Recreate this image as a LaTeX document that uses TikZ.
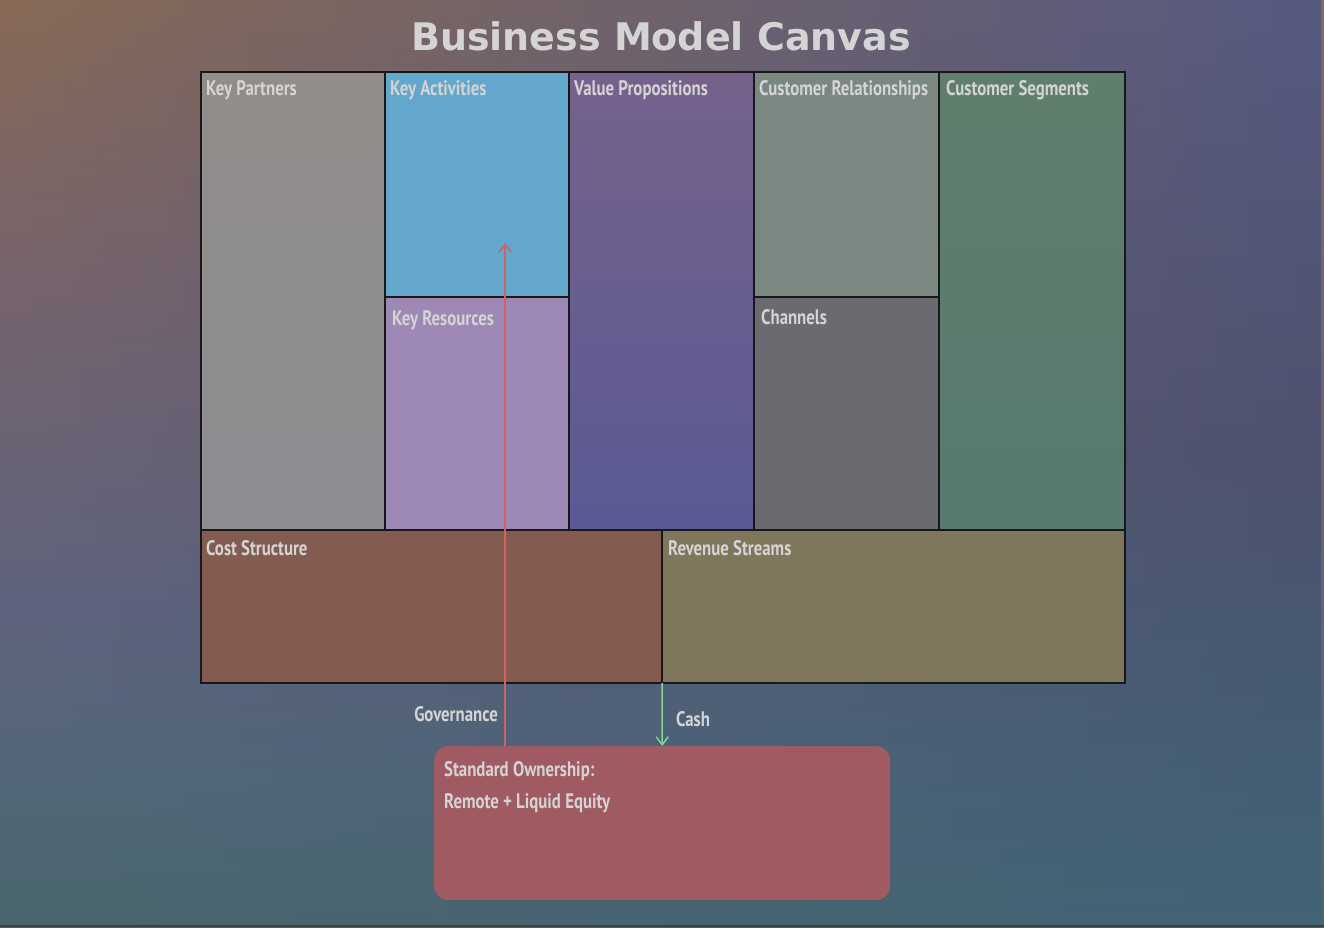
\documentclass[tikz,border=0pt]{standalone}
\usepackage{fontspec}
\setmainfont[FakeStretch=0.8]{PT Sans}
\newfontfamily\titlefont{DejaVu Sans}
\usetikzlibrary{arrows.meta,shadings,fadings}
\definecolor{l0}{RGB}{136,106,86}
\definecolor{l1}{RGB}{118,100,110}
\definecolor{l2}{RGB}{96,100,126}
\definecolor{l3}{RGB}{84,104,122}
\definecolor{l4}{RGB}{74,102,108}
\definecolor{r0}{RGB}{86,90,130}
\definecolor{r1}{RGB}{78,82,110}
\definecolor{r2}{RGB}{70,90,114}
\definecolor{r3}{RGB}{66,100,118}
\pgfdeclareverticalshading{bgleft}{100bp}{color(0bp)=(l4); color(25bp)=(l4); color(33bp)=(l3); color(42.6bp)=(l2); color(58.8bp)=(l1); color(75bp)=(l0); color(100bp)=(l0)}
\pgfdeclareverticalshading{bgright}{100bp}{color(0bp)=(r3); color(25bp)=(r3); color(38bp)=(r2); color(50.7bp)=(r1); color(75bp)=(r0); color(100bp)=(r0)}
\tikzfading[name=fadeR, left color=transparent!100, right color=transparent!0]
\definecolor{txt}{RGB}{212,212,212}
\definecolor{edge}{RGB}{24,24,24}
\definecolor{kpT}{RGB}{146,141,138}
\definecolor{kpB}{RGB}{140,141,146}
\definecolor{ka}{RGB}{99,168,204}
\definecolor{kr}{RGB}{158,136,182}
\definecolor{vpT}{RGB}{118,98,140}
\definecolor{vpB}{RGB}{90,90,148}
\definecolor{cr}{RGB}{123,136,130}
\definecolor{ch}{RGB}{106,106,112}
\definecolor{csgT}{RGB}{96,126,108}
\definecolor{csgB}{RGB}{88,122,112}
\definecolor{cst}{RGB}{131,91,80}
\definecolor{rs}{RGB}{126,119,92}
\definecolor{own}{RGB}{160,90,98}
\definecolor{gov}{RGB}{206,98,100}
\definecolor{cash}{RGB}{130,214,144}
\tikzset{
  cell/.style={draw=edge, line width=1.5pt, inner sep=0pt, outer sep=0pt},
  lbl/.style={text=txt, font=\bfseries\fontsize{21}{25}\selectfont, inner sep=0pt, anchor=base west},
  arrowlbl/.style={text=txt, font=\bfseries\fontsize{21}{25}\selectfont, inner sep=0pt},
  barb/.style={-{Straight Barb[length=8pt,width=12pt,line width=1.5pt]}},
}
\begin{document}
\begin{tikzpicture}[x=1pt,y=-1pt]
\useasboundingbox (0,0) rectangle (1324,927);
\shade[shading=bgleft] (0,0) rectangle (1324,927);
\shade[shading=bgright, path fading=fadeR] (0,0) rectangle (1324,927);
\fill[black!75] (0,925) rectangle (1324,927);
\node[text=txt, font=\titlefont\bfseries\fontsize{38}{42}\selectfont, inner sep=0pt] (title) at (661,36) {Business Model Canvas};
% cells
\node[cell, shade, top color=kpT, bottom color=kpB, minimum width=184pt, minimum height=458pt, anchor=north west] (kp) at (201,72) {};
\node[cell, fill=ka, minimum width=184pt, minimum height=225pt, anchor=north west] (ka) at (385,72) {};
\node[cell, fill=kr, minimum width=184pt, minimum height=233pt, anchor=north west] (kr) at (385,297) {};
\node[cell, shade, top color=vpT, bottom color=vpB, minimum width=185pt, minimum height=458pt, anchor=north west] (vp) at (569,72) {};
\node[cell, fill=cr, minimum width=185pt, minimum height=225pt, anchor=north west] (cr) at (754,72) {};
\node[cell, fill=ch, minimum width=185pt, minimum height=233pt, anchor=north west] (ch) at (754,297) {};
\node[cell, shade, top color=csgT, bottom color=csgB, minimum width=186pt, minimum height=458pt, anchor=north west] (csg) at (939,72) {};
\node[cell, fill=cst, minimum width=461pt, minimum height=153pt, anchor=north west] (cs) at (201,530) {};
\node[cell, fill=rs, minimum width=463pt, minimum height=153pt, anchor=north west] (rs) at (662,530) {};
% labels
\node[lbl] (kpl) at (206,95) {Key Partners};
\node[lbl] (kal) at (390,95) {Key Activities};
\node[lbl] (krl) at (392,325) {Key Resources};
\node[lbl] (vpl) at (574,95) {Value Propositions};
\node[lbl] (crl) at (759,95) {Customer Relationships};
\node[lbl] (chl) at (761,324) {Channels};
\node[lbl] (csgl) at (946,95) {Customer Segments};
\node[lbl] (csl) at (206,555) {Cost Structure};
\node[lbl] (rsl) at (668,555) {Revenue Streams};
% ownership box
\node[fill=own, rounded corners=14pt, minimum width=456pt, minimum height=154pt, anchor=north west, inner sep=0pt] (own) at (434,746) {};
\node[lbl] (ownl1) at (444,776) {Standard Ownership:};
\node[lbl] (ownl2) at (444,808) {Remote + Liquid Equity};
% connectors
\coordinate (govEnd) at (505,243);
\draw[gov, line width=1.5pt, barb] (own.north -| govEnd) -- (govEnd);
\draw[cash, line width=1.5pt, barb] (cs.south east) -- (own.north);
\node[arrowlbl, anchor=base east] (govl) at (498,721) {Governance};
\node[arrowlbl, anchor=base west] (cashl) at (676,726) {Cash};
\end{tikzpicture}
\end{document}
